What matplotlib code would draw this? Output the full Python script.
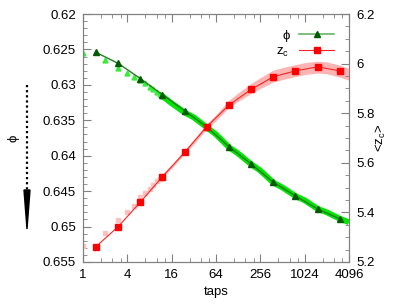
import matplotlib
matplotlib.use("Agg")
import matplotlib.pyplot as plt
from matplotlib.lines import Line2D
from matplotlib.patches import Polygon
from matplotlib.ticker import FixedLocator, FuncFormatter

plt.rcParams['font.family'] = ['Liberation Sans', 'DejaVu Sans']
plt.rcParams['mathtext.default'] = 'regular'
plt.rcParams['font.size'] = 9.5

# averaged values (markers)
taps = [1.5, 3, 6, 12, 24, 48, 96, 192, 384, 768, 1536, 3072]
phi = [0.62541, 0.62696, 0.62910, 0.63138, 0.63367, 0.63595,
       0.63873, 0.64117, 0.64375, 0.64569, 0.64752, 0.64893]
zc = [5.262, 5.342, 5.441, 5.544, 5.642, 5.746,
      5.833, 5.896, 5.947, 5.971, 5.987, 5.971]

# raw values per tap, short times
raw_taps = [1, 2, 3, 4, 5, 6, 7, 8, 9, 10, 11, 12]
raw_phi = [0.62546, 0.62649, 0.62766, 0.62837, 0.62893, 0.62932,
           0.62978, 0.63035, 0.63065, 0.63095, 0.63125, 0.63160]
raw_zc = [5.264, 5.316, 5.369, 5.403, 5.427, 5.461,
          5.477, 5.494, 5.510, 5.528, 5.536, 5.548]

# raw values, long times (dense band)
band_taps = [12, 16, 24, 32, 48, 64, 96, 128, 192, 256, 384, 512,
             768, 1024, 1536, 2048, 3072, 4096]
band_phi = [0.6316, 0.6326, 0.6339, 0.6346, 0.6360, 0.6370, 0.6388, 0.6397,
            0.6412, 0.6421, 0.6438, 0.6445, 0.6457, 0.6463, 0.6475, 0.6480,
            0.6489, 0.6494]
band_zc_lo = [5.542, 5.578, 5.637, 5.676, 5.738, 5.770, 5.823, 5.848,
              5.880, 5.900, 5.926, 5.936, 5.948, 5.956, 5.962, 5.959,
              5.946, 5.933]
band_zc_hi = [5.556, 5.592, 5.653, 5.694, 5.758, 5.794, 5.853, 5.882,
              5.920, 5.944, 5.974, 5.984, 5.996, 6.004, 6.010, 6.007,
              5.994, 5.981]

xticks = [1, 4, 16, 64, 256, 1024, 4096]
phi_ticks = [0.62, 0.625, 0.63, 0.635, 0.64, 0.645, 0.65, 0.655]
zc_ticks = [5.2, 5.4, 5.6, 5.8, 6.0, 6.2]

GRID = '#808080'

fig = plt.figure(figsize=(4.15, 3.06), dpi=100)
ax = fig.add_axes([0.2, 0.144, 0.641, 0.81])
ax2 = ax.twinx()

# phi on left (inverted) axis
ax.plot(band_taps, band_phi, color='#00e600', lw=4.2, solid_capstyle='butt', zorder=1)
ax.plot(raw_taps, raw_phi, ls='none', marker='^', ms=3.5, color='#33ee33', zorder=2)
ax.plot(taps, phi, color='#2a7a2a', lw=1.0, marker='^', ms=5,
        mfc='#005a00', mec='#005a00', zorder=3)

# z_c on right axis
ax2.fill_between(band_taps, band_zc_lo, band_zc_hi, color='#ffb4b4', lw=0, zorder=1)
ax2.plot(raw_taps, raw_zc, ls='none', marker='s', ms=3.5, color='#ffc0c0', zorder=2)
ax2.plot(taps, zc, color='#ff2020', lw=0.8, marker='s', ms=5,
         mfc='#ff0000', mec='#ff0000', zorder=3)

ax.set_xscale('log', base=2)
ax.set_xlim(1, 4096)
ax.xaxis.set_major_locator(FixedLocator(xticks))
ax.xaxis.set_major_formatter(FuncFormatter(lambda v, p: '%d' % v))
minors = []
for t in xticks[:-1]:
    minors += [t + j * 3 * t / 4 for j in (1, 2, 3)]
ax.xaxis.set_minor_locator(FixedLocator(minors))
ax.xaxis.set_minor_formatter(FuncFormatter(lambda v, p: ''))

ax.set_ylim(0.655, 0.62)
ax.set_yticks(phi_ticks)
ax.yaxis.set_major_formatter(FuncFormatter(lambda v, p: '%g' % round(v, 4)))
ax.yaxis.set_minor_locator(FixedLocator([0.62 + 0.001 * i for i in range(36)]))

ax2.set_ylim(5.2, 6.2)
ax2.set_yticks(zc_ticks)
ax2.yaxis.set_major_formatter(FuncFormatter(lambda v, p: '%g' % round(v, 2)))
ax2.yaxis.set_minor_locator(FixedLocator([5.2 + 0.05 * i for i in range(21)]))

for a in (ax, ax2):
    for s in a.spines.values():
        s.set_color(GRID)
    a.tick_params(which='both', direction='in', color=GRID, labelcolor='black')
    a.tick_params(which='major', length=6, pad=5)
    a.tick_params(which='minor', length=3)
ax.tick_params(axis='x', which='both', top=True)
ax.tick_params(axis='y', which='both', right=False)

ax.set_xlabel('taps', labelpad=4)
ax2.set_ylabel('<z$_c$>', labelpad=0)

# phi label with dotted arrow
fig.text(13 / 415, 1 - 138 / 306, 'ϕ', rotation=90, ha='center', va='center')
fig.add_artist(Line2D([27 / 415, 27 / 415], [1 - 85 / 306, 1 - 192 / 306],
                      color='black', lw=1.6, ls=(0, (1, 1.3))))
fig.add_artist(Polygon([[24 / 415, 1 - 190 / 306], [30 / 415, 1 - 190 / 306],
                        [27 / 415, 1 - 229 / 306]], closed=True, color='black'))

handles = [Line2D([], [], color='#6ab46a', lw=1.2, marker='^', ms=5,
                  mfc='#005a00', mec='#005a00'),
           Line2D([], [], color='#ff2020', lw=0.8, marker='s', ms=5,
                  mfc='#ff0000', mec='#ff0000')]
ax2.legend(handles, ['ϕ', 'z$_c$'], loc='upper right', bbox_to_anchor=(0.99, 0.985),
           frameon=False, markerfirst=False, handlelength=2.7,
           labelspacing=0.25, handletextpad=0.7)

fig.savefig('out.png', dpi=100)
